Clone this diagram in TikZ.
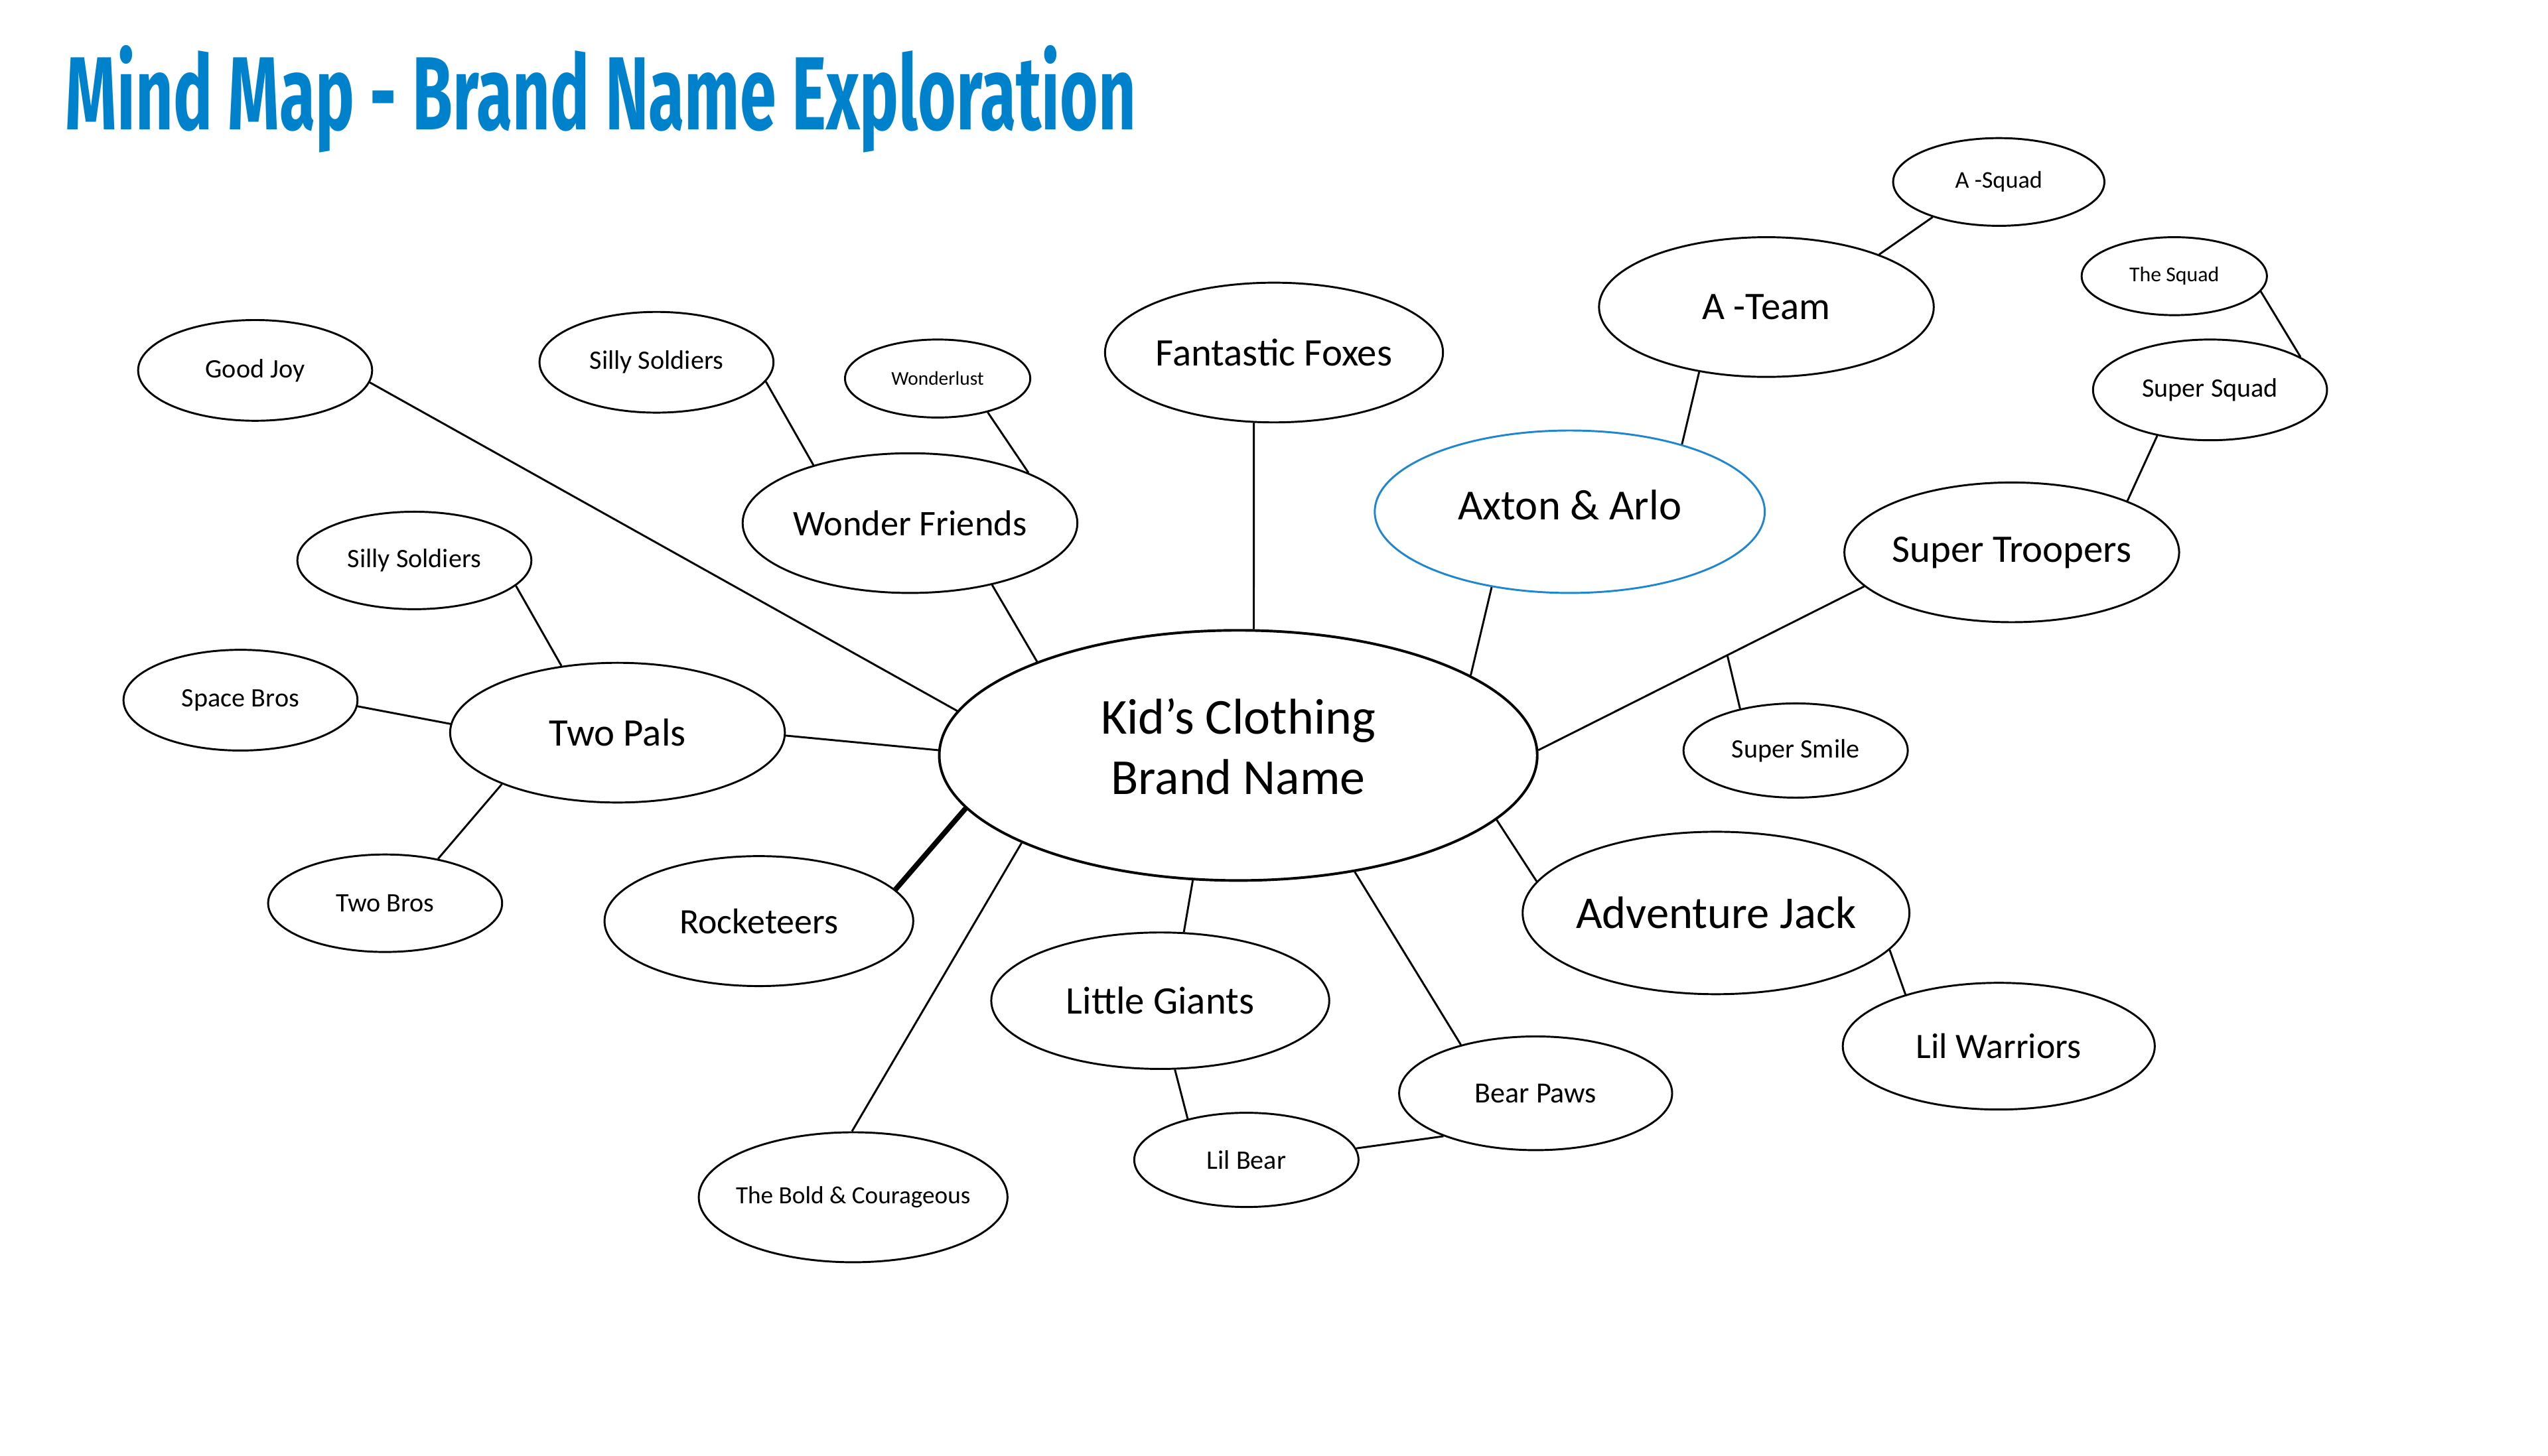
\documentclass[tikz,border=0pt]{standalone}
\usepackage{fontspec}
\setmainfont{Carlito}
\newfontfamily\titlefont[FakeStretch=0.63]{Fira Sans}
\usetikzlibrary{shapes.geometric}
\definecolor{TitleBlue}{HTML}{0081CC}
\definecolor{RingBlue}{HTML}{1F86CF}

\begin{document}
\begin{tikzpicture}[x=0.5pt,y=-0.5pt,
  bubble/.style 2 args={draw,ellipse,line width=0.6pt,inner xsep=-12pt,inner ysep=0pt,align=center,
    minimum width=#1pt,minimum height=#2pt},
  big/.style={font=\fontsize{15.5}{18.5}\selectfont},
  mid/.style={font=\fontsize{12}{14}\selectfont},
  small/.style={font=\fontsize{8.2}{10}\selectfont},
  tiny/.style={font=\fontsize{6.5}{8}\selectfont},
  link/.style={line width=0.6pt}]
  \useasboundingbox (0,0) rectangle (1568,896);
  \node[anchor=base west,inner sep=0pt,text=TitleBlue,font=\titlefont\bfseries\fontsize{32}{36}\selectfont] (title) at (40,80) {Mind Map - Brand Name Exploration};

  % centre
  \node[bubble={184}{77},big,line width=0.8pt] (brand) at (762,465)
    {\raisebox{1pt}[\height][\depth]{\begin{tabular}{@{}c@{}}Kid’s Clothing\\Brand Name\end{tabular}}};

  % first ring
  \node[bubble={104}{43},mid] (foxes) at (784,217) {Fantastic Foxes};
  \node[bubble={120}{50},draw=RingBlue,font=\fontsize{13.2}{16}\selectfont] (axton) at (966,315) {\raisebox{2pt}[\height][\depth]{Axton \& Arlo}};
  \node[bubble={103}{43},mid] (ateam) at (1087,189) {A -Team};
  \node[bubble={103}{43},mid] (troopers) at (1238,340) {Super Troopers};
  \node[bubble={119}{50},font=\fontsize{14}{16}\selectfont] (advjack) at (1056,562) {Adventure Jack};
  \node[bubble={96}{39},font=\fontsize{11}{13}\selectfont] (warriors) at (1230,644) {Lil Warriors};
  \node[bubble={104}{42},mid] (giants) at (714,616) {Little Giants};
  \node[bubble={95}{40},font=\fontsize{11}{13}\selectfont] (rocket) at (467,567) {Rocketeers};
  \node[bubble={103}{43},mid] (twopals) at (380,451) {Two Pals};
  \node[bubble={103}{43},font=\fontsize{11.1}{13}\selectfont] (friends) at (560,322) {Wonder Friends};

  % leaves
  \node[bubble={65}{27},font=\fontsize{7.4}{9}\selectfont] (asquad) at (1230,112) {A -Squad};
  \node[bubble={57}{24},tiny] (thesquad) at (1338,170) {The Squad};
  \node[bubble={72}{31},small] (supersquad) at (1360,240) {Super Squad};
  \node[bubble={69}{29},small] (smile) at (1105,462) {Super Smile};
  \node[bubble={84}{35},font=\fontsize{9}{11}\selectfont] (bearpaws) at (945,673) {Bear Paws};
  \node[bubble={69}{29},small] (lilbear) at (767,714) {Lil Bear};
  \node[bubble={95}{40},font=\fontsize{7.6}{9}\selectfont] (bold) at (525,737) {The Bold \& Courageous};
  \node[bubble={72}{30},small] (twobros) at (237,556) {Two Bros};
  \node[bubble={72}{31},small] (spacebros) at (148,431) {Space Bros};
  \node[bubble={72}{30},small] (sillyl) at (255,345) {Silly Soldiers};
  \node[bubble={72}{31},small] (sillyt) at (404,223) {Silly Soldiers};
  \node[bubble={57}{24},font=\fontsize{6}{7}\selectfont] (wonderlust) at (577,233) {Wonderlust};
  \node[bubble={72}{31},small] (goodjoy) at (157,228) {Good Joy};

  % connectors
  \foreach \a/\b in {goodjoy.-6/brand.171, foxes.-106/brand.83, axton.224/brand.19,
    ateam.-136/axton.31, ateam.25/asquad.208, thesquad.-10/supersquad.20,
    supersquad.221/troopers.24, brand.-14/advjack.170, advjack.-12/warriors.151,
    brand.-45/bearpaws.147, bearpaws.205/lilbear.6, giants.-78/lilbear.145,
    brand.250/giants.71, brand.202/bold.91, twopals.-1/brand.179,
    twopals.177/spacebros.-3, twopals.204/twobros.40, twopals.130/sillyl.-14,
    friends.-37/brand.155, friends.149/sillyt.-10, friends.23/wonderlust.-34}
    \draw[link] (\a) -- (\b);
  \draw[link] (troopers.193) -- coordinate[pos=0.42] (smilejoin) (brand.1);
  \draw[link] (smilejoin) -- (smile.143);
  \draw[line width=1.6pt] (brand.191) -- (rocket.13);
\end{tikzpicture}
\end{document}
